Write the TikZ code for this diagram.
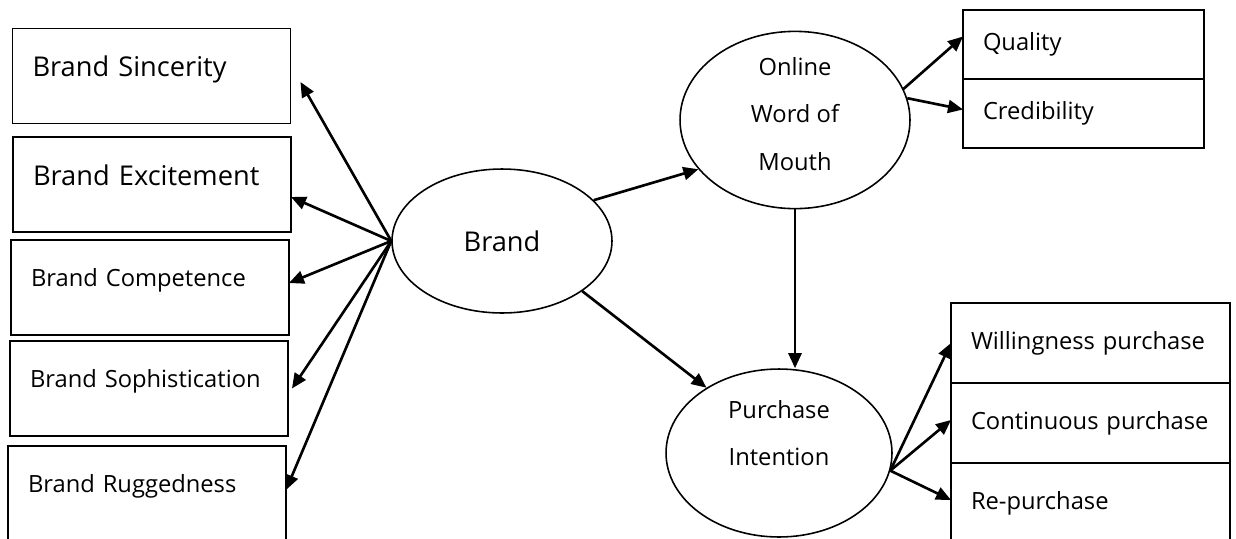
\documentclass[tikz,border=0pt]{standalone}
\usepackage{fontspec}
\setmainfont{Open Sans}
\usepackage{tikz}
\usetikzlibrary{shapes,arrows.meta,positioning,calc}

\begin{document}
\begin{tikzpicture}[
    x=0.02cm, y=-0.02cm,
    lbox/.style={rectangle, draw=black, line width=1.1pt, outer sep=0pt, align=left, text width=4.76cm, inner xsep=0.4cm, minimum height=1.9cm, text depth=1.1em, font=\fontsize{13.5}{20}\selectfont},
    rbox/.style={rectangle, draw=black, line width=1.1pt, outer sep=0pt, align=left, inner xsep=0.4cm, font=\fontsize{13.5}{20}\selectfont},
    big/.style={font=\fontsize{15.5}{20}\selectfont},
    lat/.style={ellipse, draw=black, line width=0.9pt, inner sep=0pt, align=center, font=\fontsize{13.5}{27}\selectfont},
    arr/.style={-{Triangle[length=0.3cm, width=0.26cm]}, line width=1.5pt}
]
    \useasboundingbox (0,0) rectangle (1236,538);
    \clip (0,0) rectangle (1236,538);

    \node [lbox, big] (n1) at (151.5,76) {Brand Sincerity};
    \node [lbox, big] (n2) at (152,184.5) {Brand Excitement};
    \node [lbox] (n3) at (150,287.5) {Brand Competence};
    \node [lbox] (n4) at (149,388.5) {Brand Sophistication};
    \node [lbox] (n5) at (147,493.5) {Brand Ruggedness};

    \node [lat, big, minimum width=4.4cm, minimum height=2.88cm, text depth=0pt] (b) at (502,241) {Brand};
    \node [lat, minimum width=4.6cm, minimum height=3.3cm] (w) at (795,120) {Online\\Word of\\Mouth\\[-0.7cm]};
    \node [lat, minimum width=4.52cm, minimum height=3.36cm] (p) at (779,453) {Purchase\\Intention\\[-0.15cm]};

    \node [rbox, text width=4.02cm, minimum height=1.38cm, anchor=north west] (q) at (963,10) {Quality};
    \node [rbox, text width=4.02cm, minimum height=1.38cm, below=0pt of q] (c) {Credibility};

    \node [rbox, text width=4.78cm, minimum height=1.6cm, anchor=north west] (wp) at (951,303) {Willingness purchase};
    \node [rbox, text width=4.78cm, minimum height=1.6cm, below=0pt of wp] (cp) {Continuous purchase};
    \node [rbox, text width=4.78cm, minimum height=1.6cm, below=0pt of cp] (rp) {Re-purchase};

    \draw [arr] (b.west) -- ([xshift=0.2cm, yshift=-0.12cm]n1.east);
    \draw [arr] (b.west) -- ([yshift=-0.25cm]n2.east);
    \draw [arr] (b.west) -- ([yshift=0.09cm]n3.east);
    \draw [arr] (b.west) -- ([xshift=0.08cm]n4.east);
    \draw [arr] (b.west) -- ([yshift=0.07cm]n5.east);

    \draw [arr] (b.24) -- (w.207);
    \draw [arr] (b.-32) -- (p.138);
    \draw [arr] (w.south) -- (w.south |- p.north);

    \draw [arr] (w.16) -- ([yshift=0.16cm]q.west);
    \draw [arr] (w.11) -- ([yshift=0.08cm]c.west);

    \draw [arr] (p.-9) -- (wp.west);
    \draw [arr] (p.-9) -- ([yshift=0.06cm]cp.west);
    \draw [arr] (p.-9) -- ([yshift=0.06cm]rp.west);
\end{tikzpicture}
\end{document}
